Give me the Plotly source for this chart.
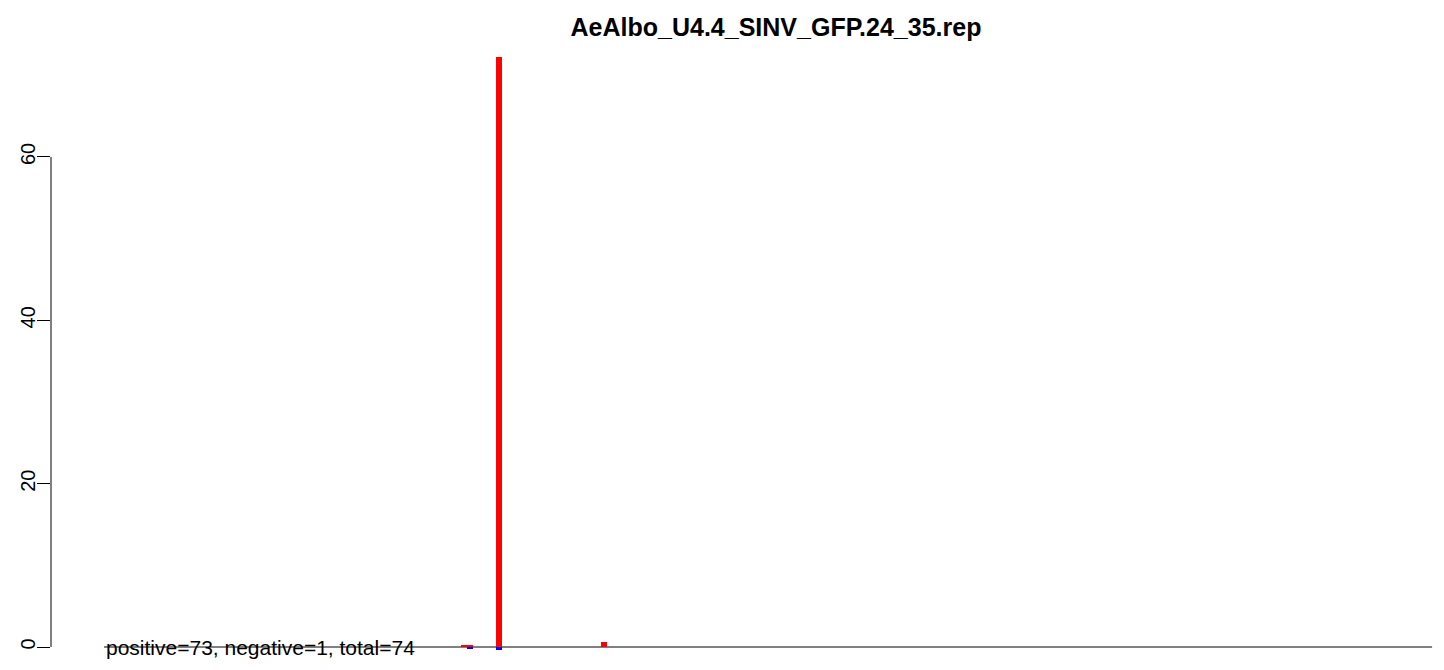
import plotly.graph_objects as go

# ---- data ----
title_text = "AeAlbo_U4.4_SINV_GFP.24_35.rep"
genome_length = 11700
pos_x = [3170, 3225, 3480, 4405]
pos_y = [0.25, 0.25, 72.3, 0.6]
neg_x = [3225, 3480]
neg_y = [-0.3, -0.35]
y_ticks = [0, 20, 40, 60]
summary_text = "positive=73, negative=1, total=74"

FONT = "Liberation Sans, Arial, Helvetica, sans-serif"
bar_w = 53

# the page body has an 8px margin; size the figure to fill the window
W, H = 1436, 662

fig = go.Figure()
fig.add_trace(go.Bar(x=pos_x, y=pos_y, width=[bar_w] * len(pos_x),
                     marker=dict(color="#FF0000", line=dict(width=0)),
                     showlegend=False, hoverinfo="x+y"))
fig.add_trace(go.Bar(x=neg_x, y=neg_y, width=[bar_w] * len(neg_x),
                     marker=dict(color="#0000FF", line=dict(width=0)),
                     showlegend=False, hoverinfo="x+y"))

# zero reference line across genome
fig.add_shape(type="line", x0=0, x1=genome_length, y0=0, y1=0,
              xref="x", yref="y", line=dict(color="#808080", width=2), layer="below")
# R-style y axis line spanning tick range only
fig.add_shape(type="line", x0=0, x1=0, y0=min(y_ticks), y1=max(y_ticks),
              xref="paper", yref="y", line=dict(color="black", width=1))

fig.add_annotation(x=0, y=0, xref="x", yref="y", text=summary_text,
                   showarrow=False, xanchor="left", yanchor="middle",
                   font=dict(family=FONT, size=21, color="black"))

fig.update_layout(
    width=W, height=H,
    margin=dict(l=43, r=11, t=32, b=5, autoexpand=False),
    paper_bgcolor="white", plot_bgcolor="white",
    barmode="overlay", bargap=0,
    title=dict(text="<b>%s</b>" % title_text, x=768 / W, xanchor="center",
               y=1 - 19 / H, yanchor="middle",
               font=dict(family=FONT, size=25, color="black")),
    xaxis=dict(range=[-467, 11708], visible=False, showgrid=False, zeroline=False),
    yaxis=dict(range=[-2.204, 74.32], tickvals=y_ticks, ticktext=[str(v) for v in y_ticks],
               showgrid=False, zeroline=False, showline=False,
               ticks="outside", ticklen=13, tickwidth=1, tickcolor="black",
               tickangle=-90, ticklabelstandoff=-6,
               tickfont=dict(family=FONT, size=20, color="black"),
               automargin=False),
    font=dict(family=FONT),
)

fig.write_html("out.html")
